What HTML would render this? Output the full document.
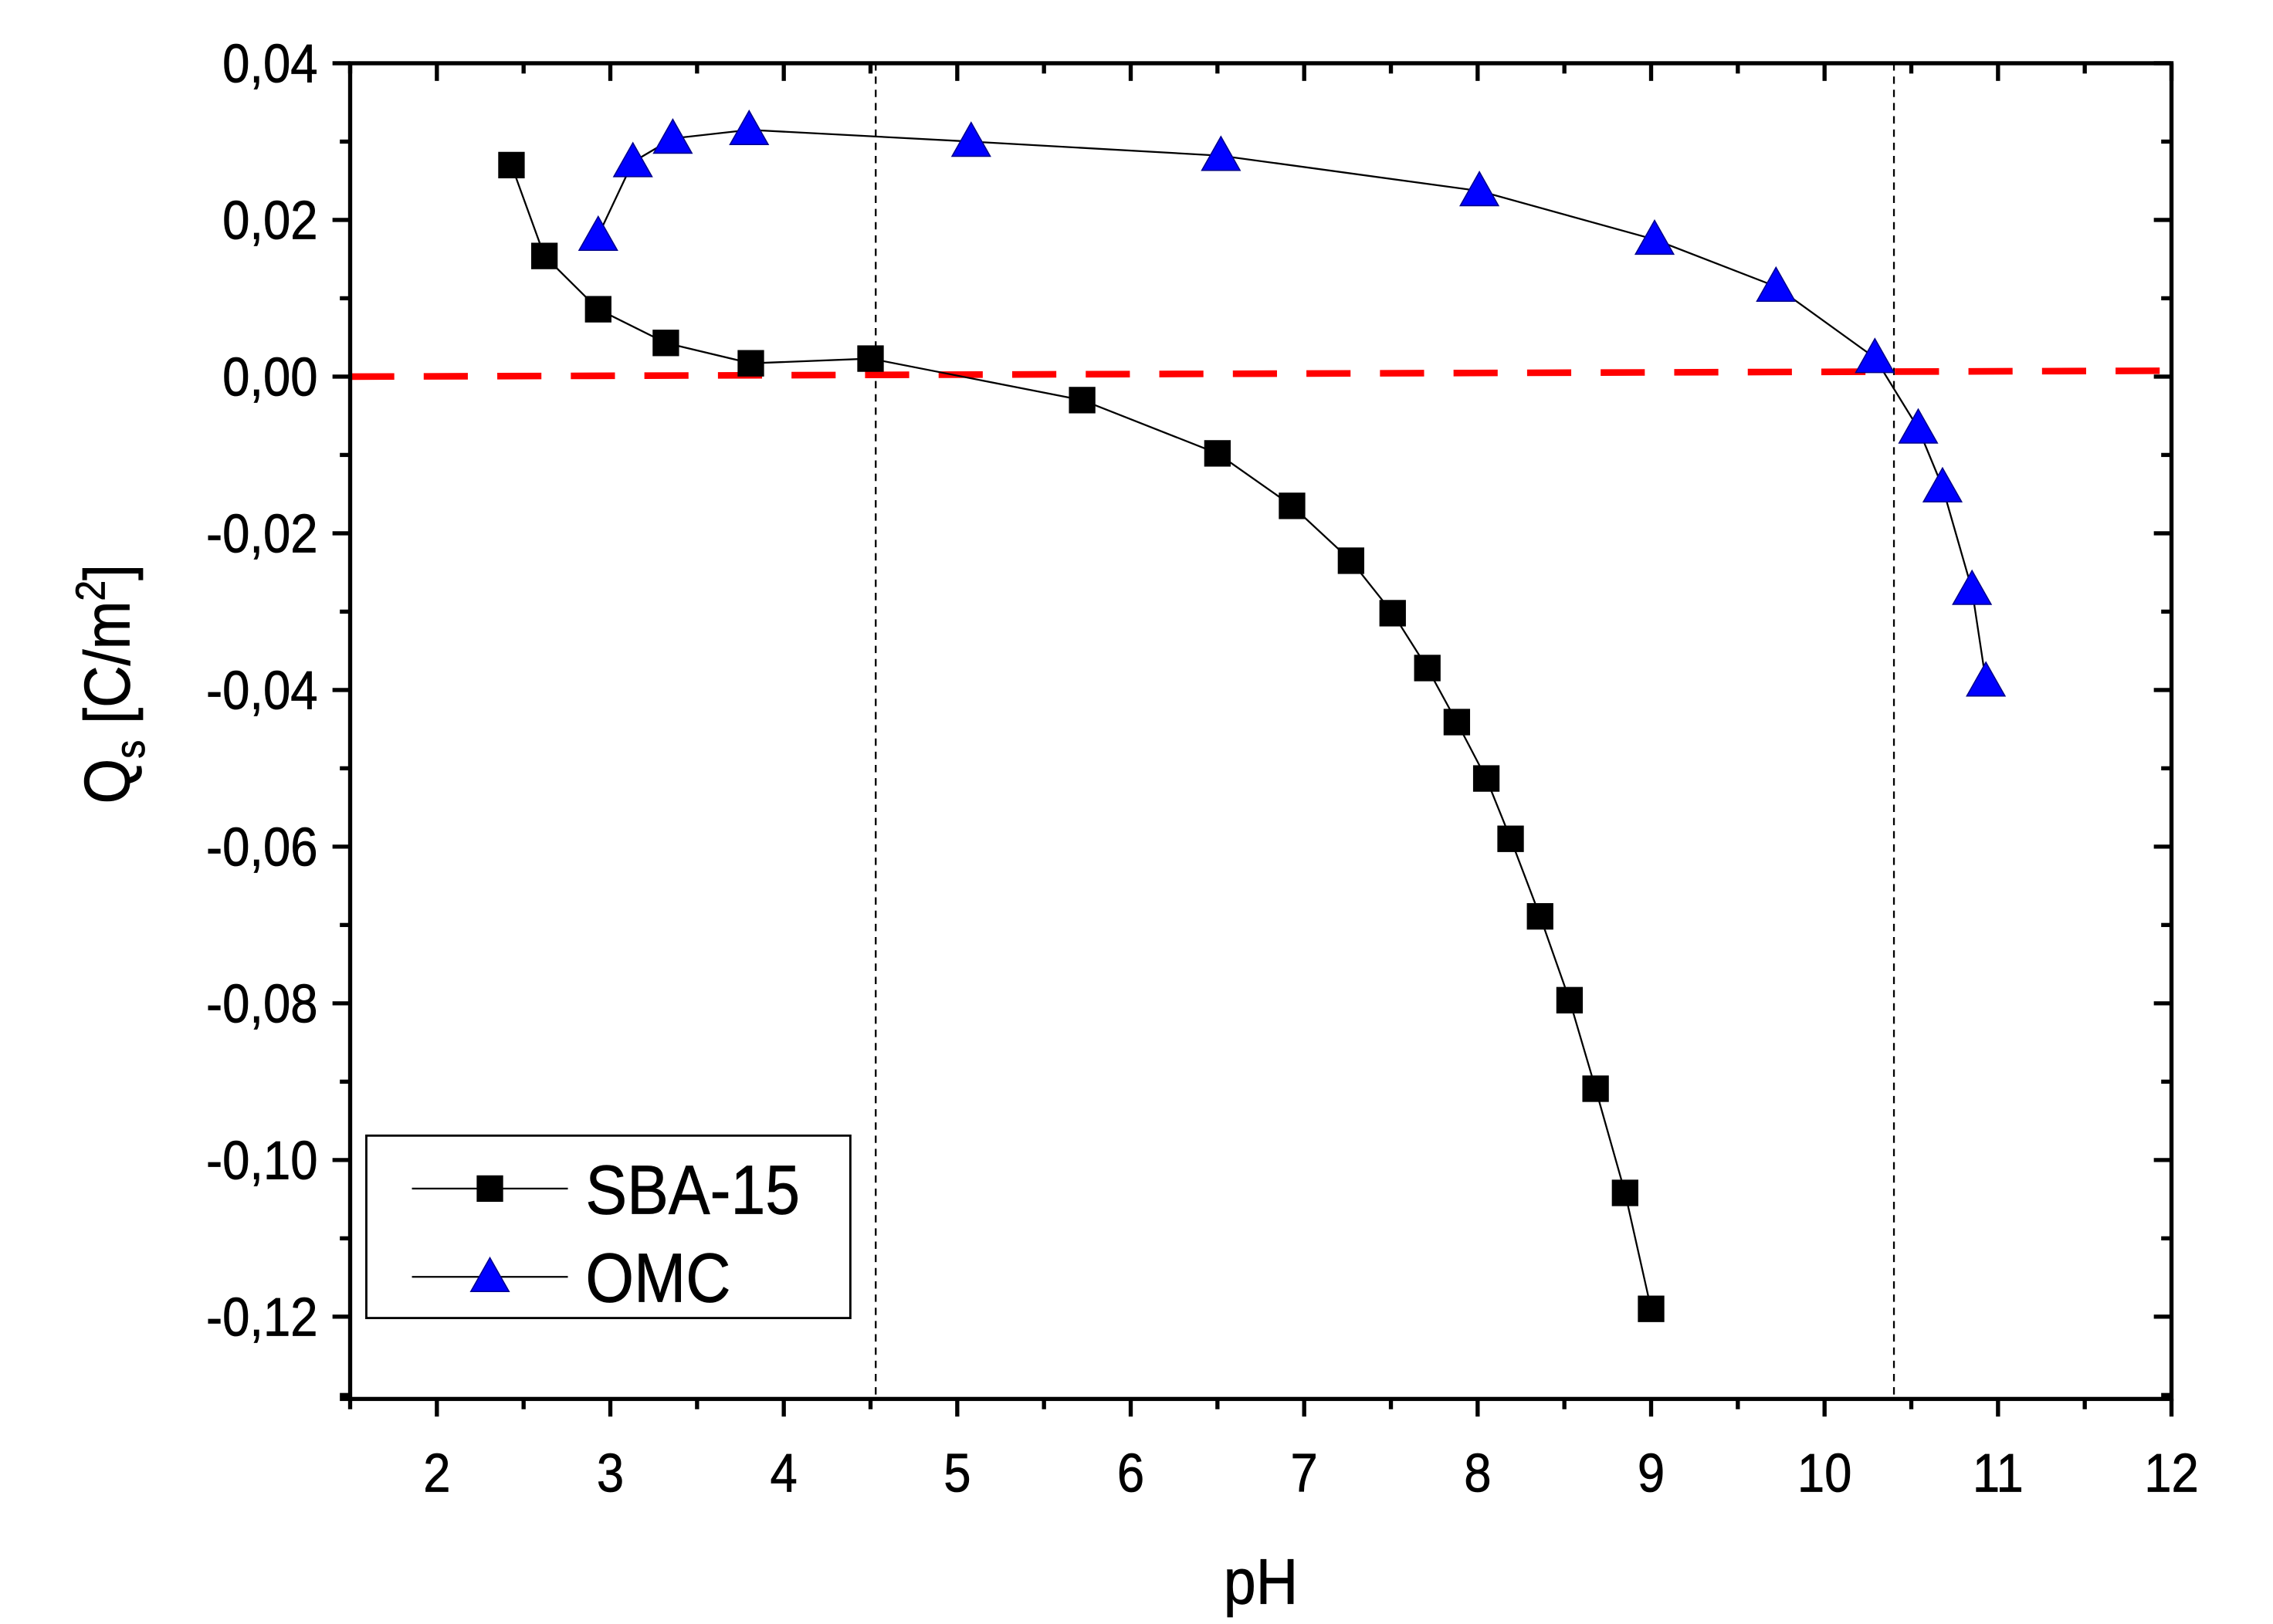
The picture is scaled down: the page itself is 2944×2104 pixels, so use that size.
<!DOCTYPE html>
<html><head><meta charset="utf-8"><style>
html,body{margin:0;padding:0;background:#fff;}
svg{display:block;}
text{font-family:"Liberation Sans",sans-serif;fill:#000;stroke:#000;stroke-width:0.4;}
</style></head><body>
<svg id="chart" width="2944" height="2104" viewBox="0 0 1545 1104" preserveAspectRatio="none" xmlns="http://www.w3.org/2000/svg">
<rect width="1545" height="1104" fill="#fff"/>
<g id="grid"></g>
<g id="marks"></g>
<g id="axes"></g>
</svg>
<script>
const sbaX=[2.43,2.62,2.93,3.32,3.81,4.50,5.72,6.50,6.93,7.27,7.51,7.71,7.88,8.05,8.19,8.36,8.53,8.68,8.85,9.00];
const sbaY=[0.027,0.0154,0.0086,0.0043,0.0017,0.0023,-0.003,-0.0098,-0.0165,-0.0235,-0.0302,-0.0372,-0.0441,-0.0513,-0.059,-0.0689,-0.0796,-0.0909,-0.1042,-0.119];
const omcX=[2.93,3.13,3.36,3.80,5.08,6.52,8.01,9.02,9.72,10.29,10.54,10.68,10.85,10.93];
const omcY=[0.018,0.0274,0.0304,0.0315,0.030,0.0282,0.0237,0.0175,0.0115,0.0024,-0.0066,-0.0141,-0.0272,-0.0389];
const xTicks=[2,3,4,5,6,7,8,9,10,11,12];
const yTicks=[0.04,0.02,0.00,-0.02,-0.04,-0.06,-0.08,-0.10,-0.12];
const yTickLabels=["0,04","0,02","0,00","-0,02","-0,04","-0,06","-0,08","-0,10","-0,12"];
const pzcX=[4.53,10.40];
const refLineY=[0.0,0.00075];

const L=238,R=1476,T=43,B=951,XMIN=1.5,XMAX=12,YMIN=-0.1305,YMAX=0.04;
const sx=v=>L+(v-XMIN)/(XMAX-XMIN)*(R-L);
const sy=v=>B-(v-YMIN)/(YMAX-YMIN)*(B-T);
const NS="http://www.w3.org/2000/svg";
function mk(tag,attrs,parent){const e=document.createElementNS(NS,tag);for(const k in attrs)e.setAttribute(k,attrs[k]);parent.appendChild(e);return e;}
const marks=document.getElementById('marks'),axes=document.getElementById('axes'),grid=document.getElementById('grid');

pzcX.forEach((p,i)=>{const l=mk('line',{x1:sx(p),x2:sx(p),y1:T,y2:B,stroke:'#000','stroke-width':1.2,'stroke-dasharray':'5,4'},grid);

});
const rl=mk('line',{x1:L,x2:R,y1:sy(refLineY[0]),y2:sy(refLineY[1]),stroke:'#ff0000','stroke-width':4.5,'stroke-dasharray':'30,20'},grid);



function poly(xs,ys){return xs.map((x,i)=>sx(x)+','+sy(ys[i])).join(' ');}
const pl1=mk('polyline',{points:poly(sbaX,sbaY),fill:'none',stroke:'#000','stroke-width':1.2},marks);


const pl2=mk('polyline',{points:poly(omcX,omcY),fill:'none',stroke:'#000','stroke-width':1.2},marks);


function square(cx,cy,parent){return mk('rect',{x:cx-9,y:cy-9,width:18,height:18,fill:'#000'},parent);}
function tri(cx,cy,parent){return mk('polygon',{points:`${cx},${cy-13} ${cx-13},${cy+10} ${cx+13},${cy+10}`,fill:'#0000ff',stroke:'#00008b','stroke-width':0.8},parent);}
sbaX.forEach((x,i)=>{const m=square(sx(x),sy(sbaY[i]),marks);

});
omcX.forEach((x,i)=>{const m=tri(sx(x),sy(omcY[i]),marks);

});

const fr=mk('rect',{x:L,y:T,width:R-L,height:B-T,fill:'none',stroke:'#000','stroke-width':2.8},axes);


for(let v=1.5;v<=12.001;v+=0.5){const major=Math.abs(v-Math.round(v))<1e-6;const x=sx(v);const len=major?12:7;
mk('line',{x1:x,x2:x,y1:B,y2:B+len,stroke:'#000','stroke-width':2.8},axes);
mk('line',{x1:x,x2:x,y1:T,y2:T+len,stroke:'#000','stroke-width':2.8},axes);}
xTicks.forEach(v=>{const t=mk('text',{x:0,y:0,'font-size':37,'text-anchor':'middle',transform:`translate(${sx(v)},${B+63}) scale(0.9,1)`},axes);t.textContent=v;

});
for(let k=0;k<=17;k++){const v=0.04-k*0.01;if(v<YMIN-1e-9)break;const major=k%2===0;const y=sy(v);const len=major?12:7;
mk('line',{x1:L-len,x2:L,y1:y,y2:y,stroke:'#000','stroke-width':2.8},axes);
mk('line',{x1:R-len,x2:R,y1:y,y2:y,stroke:'#000','stroke-width':2.8},axes);}
mk('line',{x1:L-7,x2:L,y1:B,y2:B,stroke:'#000','stroke-width':2.8},axes);
yTicks.forEach((v,i)=>{const t=mk('text',{x:0,y:0,'font-size':37,'text-anchor':'end',transform:`translate(${L-22},${sy(v)+13}) scale(0.9,1)`},axes);t.textContent=yTickLabels[i];

});
const xt=mk('text',{x:0,y:0,'font-size':44,'text-anchor':'middle',transform:`translate(857,1090) scale(0.9,1)`},axes);xt.textContent='pH';


const yt=mk('text',{x:0,y:0,'font-size':44,'text-anchor':'middle',transform:`translate(88,465) rotate(-90) scale(0.9,1)`},axes);
yt.innerHTML='Q<tspan font-size="28" dy="10">s</tspan><tspan dy="-10"> [C/m</tspan><tspan font-size="28" dy="-17">2</tspan><tspan dy="17">]</tspan>';



const lg=mk('g',{},axes);


mk('rect',{x:249,y:772,width:329,height:124,fill:'#fff',stroke:'#000','stroke-width':1.5},lg);
mk('line',{x1:280,x2:386,y1:808,y2:808,stroke:'#000','stroke-width':1.2},lg);
square(333,808,lg);
mk('line',{x1:280,x2:386,y1:868,y2:868,stroke:'#000','stroke-width':1.2},lg);
tri(333,868,lg);
const l1=mk('text',{x:0,y:0,'font-size':47,transform:'translate(398,825) scale(0.9,1)'},lg);l1.textContent='SBA-15';


const l2=mk('text',{x:0,y:0,'font-size':47,transform:'translate(398,885) scale(0.9,1)'},lg);l2.textContent='OMC';


</script>
</body></html>
